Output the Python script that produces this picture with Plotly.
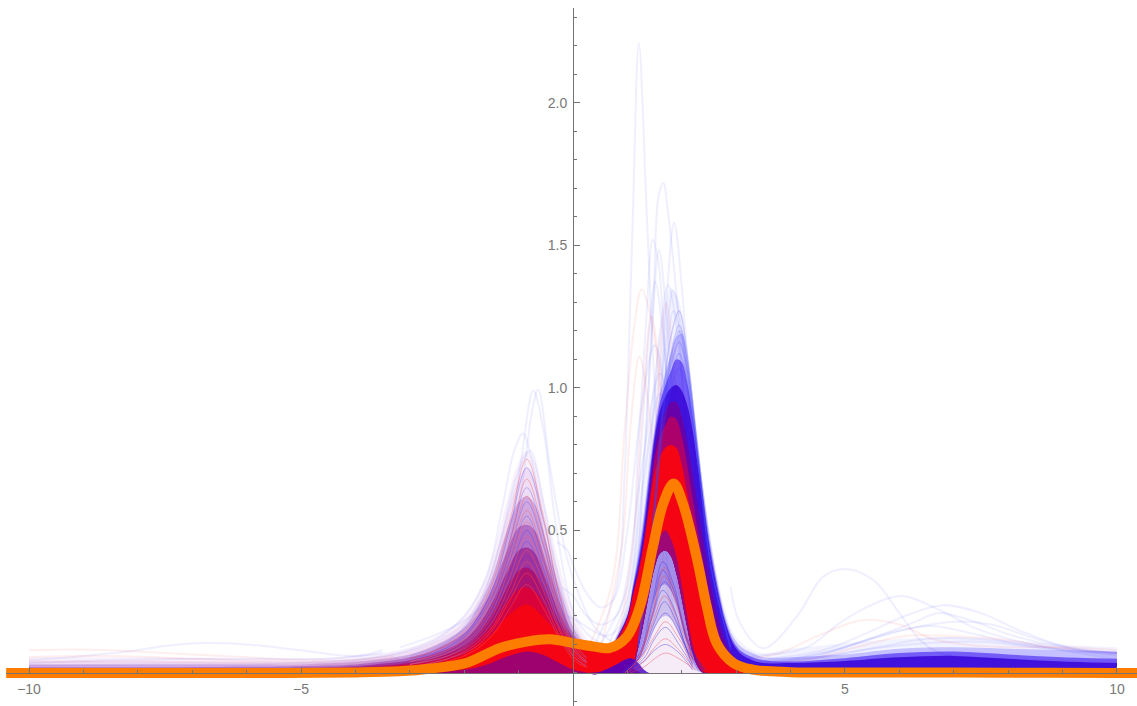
import plotly.graph_objects as go

# x grids for the two humps
left_x = [-10, -8, -6, -5, -4, -3.5, -3, -2.5, -2, -1.75, -1.5, -1.25, -1, -.85, -.7, -.5, -.25, 0, .25, .5, .75, 1, 1.25]
right_x = [.25, .5, .75, 1, 1.1, 1.2, 1.3, 1.4, 1.5, 1.6, 1.7, 1.8, 1.9, 2, 2.1, 2.2, 2.3, 2.4, 2.5, 2.6, 2.7, 2.8, 2.95, 3.1, 3.3, 3.5, 4, 4.5, 5, 6, 7, 8, 9, 10]

# left hump envelopes, outermost first
left_top = [.055, .055, .05, .05, .06, .07, .09, .13, .2, .28, .4, .58, .74, .78, .74, .58, .38, .22, .12, .07, .03, .01, 0]
left_pale = [.04, .04, .04, .04, .05, .06, .08, .115, .18, .25, .36, .53, .68, .72, .68, .53, .34, .19, .1, .06, .025, .008, 0]
left_mid = [.03, .03, .03, .03, .04, .05, .065, .1, .16, .23, .33, .48, .6, .62, .59, .46, .3, .16, .09, .05, .02, .005, 0]
left_purple = [.02, .02, .022, .024, .03, .04, .055, .085, .14, .2, .29, .41, .51, .52, .5, .39, .25, .14, .08, .04, .015, 0, 0]
left_deep = [.012, .014, .016, .018, .024, .033, .045, .07, .115, .165, .24, .34, .43, .44, .42, .33, .21, .125, .07, .035, .01, 0, 0]
left_wine = [.008, .01, .012, .014, .019, .026, .036, .056, .095, .135, .2, .285, .36, .37, .35, .28, .18, .12, .07, .04, .02, 0, 0]
left_warm = [.004, .005, .007, .01, .015, .02, .03, .045, .08, .115, .165, .24, .295, .3, .285, .235, .16, .12, .09, .07, .04, .01, 0]
left_solid = [.002, .003, .004, .005, .01, .014, .02, .035, .065, .1, .135, .19, .23, .24, .225, .185, .14, .11, .095, .09, .08, .03, 0]
left_low = [0, 0, 0, 0, 0, 0, 0, .004, .012, .02, .035, .055, .07, .075, .072, .06, .035, .012, .003, 0, 0, 0, 0]
left_zero = [0] * 23

# right hump envelopes, outermost first
right_fan = [0, 0, .11, .22, .34, .48, .65, .88, 1.05, 1.2, 1.3, 1.35, 1.33, 1.27, 1.12, .95, .79, .64, .51, .4, .3, .22, .14, .105, .08, .07, .085, .095, .105, .12, .125, .115, .1, .09]
right_blue = [0, 0, .11, .21, .31, .42, .56, .72, .86, .98, 1.05, 1.12, 1.18, 1.19, 1.1, .95, .8, .64, .5, .38, .28, .2, .125, .09, .07, .055, .055, .06, .065, .085, .09, .085, .08, .075]
right_violet = [0, 0, .1, .2, .3, .4, .53, .69, .84, .95, 1.01, 1.06, 1.1, 1.09, 1.02, .9, .76, .61, .47, .36, .265, .185, .11, .075, .055, .045, .04, .045, .052, .07, .075, .065, .055, .05]
right_dark = [0, 0, .1, .2, .29, .38, .5, .66, .82, .92, .97, 1.0, 1.01, .99, .94, .85, .72, .58, .45, .34, .25, .175, .1, .065, .045, .035, .035, .038, .042, .055, .06, .05, .04, .035]
right_purple = [0, 0, .1, .195, .28, .36, .47, .62, .78, .87, .92, .95, .95, .9, .81, .7, .58, .46, .35, .25, .17, .11, .06, .035, .02, .014, .012, .012, .012, .014, .014, .012, .01, .01]
right_wine = [0, 0, .1, .19, .275, .355, .46, .6, .75, .83, .87, .9, .89, .83, .73, .61, .49, .38, .28, .19, .125, .08, .04, .022, .012, .008, .005, .005, .005, .006, .006, .005, .004, .004]
right_red = [.09, .09, .1, .19, .27, .35, .45, .58, .7, .76, .79, .8, .79, .73, .63, .52, .42, .32, .23, .155, .1, .065, .033, .02, .012, .008, .005, .005, .005, .006, .006, .005, .004, .004]
right_hole = [0, 0, 0, 0, .02, .09, .18, .28, .37, .42, .43, .41, .35, .26, .16, .07, .02, 0, 0, 0, 0, 0, 0, 0, 0, 0, 0, 0, 0, 0, 0, 0, 0, 0]
right_hole_rim = [0, 0, 0, 0, .03, .11, .21, .32, .42, .48, .5, .47, .41, .31, .2, .1, .035, .005, 0, 0, 0, 0, 0, 0, 0, 0, 0, 0, 0, 0, 0, 0, 0, 0]
right_hole_high = [0, 0, 0, 0, .012, .06, .12, .19, .26, .3, .31, .29, .25, .17, .1, .04, .01, 0, 0, 0, 0, 0, 0, 0, 0, 0, 0, 0, 0, 0, 0, 0, 0, 0]
right_hole_mid = [0, 0, 0, 0, .01, .04, .08, .12, .16, .19, .2, .19, .16, .11, .06, .02, .005, 0, 0, 0, 0, 0, 0, 0, 0, 0, 0, 0, 0, 0, 0, 0, 0, 0]
right_seam = [0, .004, .025, .05, .05, .035, .012, 0, 0, 0, 0, 0, 0, 0, 0, 0, 0, 0, 0, 0, 0, 0, 0, 0, 0, 0, 0, 0, 0, 0, 0, 0, 0, 0]
right_zero = [0] * 34

# the mean curve
mean_x = [-10.42, -8, -6, -4, -3.2, -2.6, -1.95, -1.34, -.85, -.42, 0, .35, .68, .99, 1.23, 1.47, 1.66, 1.85, 2.02, 2.27, 2.46, 2.64, 2.95, 3.3, 4, 6, 8, 10, 10.37]
mean_y = [0, 0, 0, .002, .006, .016, .036, .088, .11, .118, .105, .094, .088, .127, .233, .443, .595, .665, .595, .408, .233, .105, .035, .012, .003, .002, .001, 0, 0]

# single faint curves read one by one
blue_curves = [
    ([.4, .8, .95, 1.0, 1.1, 1.21, 1.36, 1.51, 1.7, 1.9, 2.2], [.1, .3, .7, .97, 1.6, 2.21, 1.59, .97, .45, .18, .05]),
    ([.7, 1.1, 1.3, 1.48, 1.57, 1.66, 1.75, 1.91, 2.1, 2.4, 2.8], [.08, .3, .75, 1.31, 1.67, 1.72, 1.61, 1.31, .8, .3, .06]),
    ([.9, 1.3, 1.5, 1.7, 1.86, 2.0, 2.2, 2.4, 2.7, 3.1], [.05, .25, .6, 1.25, 1.58, 1.355, .85, .42, .14, .03]),
    ([.5, 1.0, 1.2, 1.35, 1.465, 1.57, 1.75, 2.0, 2.3, 2.7], [.1, .3, .8, 1.25, 1.52, 1.44, .95, .42, .12, .02]),
    ([.7, 1.1, 1.3, 1.45, 1.58, 1.72, 1.9, 2.2, 2.6], [.07, .28, .7, 1.2, 1.484, 1.25, .8, .25, .04]),
    ([.6, 1.05, 1.25, 1.4, 1.51, 1.65, 1.85, 2.15, 2.5], [.08, .3, .78, 1.2, 1.373, 1.2, .72, .22, .05]),
    ([.8, 1.2, 1.45, 1.6, 1.75, 1.9, 2.1, 2.4, 2.8], [.06, .3, .85, 1.2, 1.36, 1.22, .82, .3, .05]),
    ([.9, 1.3, 1.55, 1.7, 1.84, 2.0, 2.2, 2.5, 2.9], [.06, .32, .85, 1.15, 1.34, 1.2, .8, .26, .05]),
    ([1.0, 1.4, 1.65, 1.85, 2.05, 2.3, 2.6, 3.0], [.08, .42, .95, 1.27, 1.1, .65, .22, .04]),
    ([1.1, 1.5, 1.75, 1.98, 2.2, 2.45, 2.8, 3.2], [.08, .45, .95, 1.2, .95, .52, .13, .03]),
    ([-.3, -.1, 0, .25, .5, .75, 1.0, 1.25, 1.5, 1.8, 2.2], [.46, .43, .38, .28, .23, .26, .5, .92, 1.15, .85, .3]),
    ([-.2, 0, .25, .5, .8, 1.0, 1.25, 1.6, 2.0], [.3, .27, .2, .17, .2, .34, .7, 1.05, .6]),
    ([-.1, .1, .35, .6, .85, 1.05, 1.3, 1.6, 2.0], [.2, .18, .15, .13, .16, .3, .68, .98, .6]),
    ([-3.18, -2.57, -1.95, -1.46, -1.16, -.92, -.76, -.64, -.42, -.12, .1, .4, .8], [.09, .13, .19, .28, .44, .68, .91, .995, .72, .41, .28, .16, .1]),
    ([-3, -2.4, -1.9, -1.5, -1.2, -.95, -.73, -.55, -.3, 0, .3, .7], [.06, .1, .17, .26, .42, .75, .99, .86, .5, .22, .13, .09]),
    ([-3.2, -2.5, -2, -1.6, -1.3, -1.08, -.92, -.75, -.5, -.2, .2], [.07, .12, .2, .33, .58, .78, .84, .74, .44, .2, .08]),
    ([-2.8, -2.2, -1.7, -1.35, -1.05, -.79, -.55, -.3, 0, .4], [.06, .12, .25, .45, .68, .78, .6, .36, .16, .06]),
    ([2.9, 3.07, 3.5, 4.11, 4.6, 5, 5.52, 6, 6.38, 6.75, 7.4, 8.5, 10], [.3, .175, .087, .197, .338, .365, .326, .21, .116, .07, .05, .045, .04]),
    ([3.3, 4.3, 4.9, 5.5, 6.05, 6.75, 7.36, 8, 9, 10], [.06, .09, .175, .24, .27, .22, .16, .12, .08, .05]),
    ([3.6, 4.6, 5.4, 6.1, 6.8, 7.5, 8.2, 9, 10], [.05, .08, .14, .2, .238, .21, .15, .095, .07]),
    ([3.8, 4.8, 5.6, 6.3, 6.7, 7.3, 8.1, 9, 10], [.04, .08, .13, .18, .21, .185, .13, .09, .07]),
    ([3.5, 4.6, 5.5, 6.3, 7, 7.7, 8.5, 9.3, 10], [.04, .07, .12, .16, .18, .17, .12, .08, .06]),
    ([3.5, 4.5, 5.3, 6, 6.6, 7.3, 8.2, 9, 10], [.04, .06, .11, .15, .165, .14, .1, .08, .065]),
    ([3.6, 4.7, 5.6, 6.5, 7.4, 8.3, 9.2, 10], [.03, .06, .09, .12, .12, .1, .08, .07]),
    ([3.4, 4.5, 5.5, 6.5, 7.5, 8.5, 10], [.03, .055, .085, .105, .11, .09, .07]),
    ([-10, -9, -8, -7.5, -6.73, -6, -5, -4, -3.5], [.045, .06, .08, .095, .105, .1, .08, .06, .08]),
    ([-10, -8.5, -7, -5.5, -4.5, -3.5], [.035, .045, .05, .05, .05, .07]),
    ([-10, -8, -6, -5, -4, -3.2], [.025, .03, .03, .035, .045, .07]),
]
red_curves = [
    ([.2, .7, .95, 1.11, 1.26, 1.48, 1.7, 2.0, 2.4], [.06, .3, .85, 1.19, 1.345, 1.2, .72, .24, .04]),
    ([.5, .9, 1.05, 1.22, 1.4, 1.6, 1.9, 2.3], [.08, .45, .85, 1.11, .92, .5, .16, .03]),
    ([.9, 1.3, 1.55, 1.71, 1.9, 2.2, 2.6], [.05, .4, .95, 1.297, .95, .35, .05]),
    ([.8, 1.1, 1.3, 1.44, 1.6, 1.85, 2.2], [.08, .45, 1.0, 1.25, 1.05, .45, .06]),
    ([3.2, 3.8, 4.5, 5.33, 6, 6.6, 7.2, 8, 9, 10], [.05, .07, .13, .186, .17, .12, .1, .09, .09, .08]),
    ([3.4, 4.4, 5.2, 6.1, 6.9, 7.8, 8.8, 10], [.03, .05, .09, .13, .13, .12, .09, .07]),
    ([-10, -9, -8, -7, -6, -5, -4, -3.3], [.08, .082, .075, .065, .055, .045, .045, .06]),
    ([-10, -8.5, -7, -5.5, -4, -3.2], [.055, .06, .05, .04, .035, .05]),
    ([-10, -8, -6, -5, -4, -3.2], [.04, .04, .035, .03, .03, .04]),
]

# thin humps over the left peak, all on the same x list
hump_x = [-3, -2.3, -1.8, -1.45, -1.15, -.85, -.55, -.25, .05, .4]
hump_blue = [
    [.05, .09, .18, .31, .52, .72, .54, .27, .1, .03],
    [.04, .08, .17, .28, .47, .65, .49, .25, .09, .03],
    [.04, .08, .15, .26, .43, .6, .45, .23, .08, .02],
    [.04, .07, .14, .24, .4, .55, .4, .21, .08, .02],
    [.03, .07, .13, .22, .36, .5, .37, .19, .07, .02],
    [.03, .06, .12, .2, .33, .46, .34, .17, .07, .02],
    [.03, .06, .11, .19, .3, .41, .31, .16, .06, .02],
    [.02, .05, .1, .17, .27, .37, .28, .14, .05, .01],
    [.02, .05, .09, .15, .24, .33, .25, .12, .05, .01],
]
hump_red = [
    [.05, .1, .19, .33, .54, .75, .55, .28, .1, .03],
    [.04, .08, .16, .29, .47, .68, .5, .24, .09, .03],
    [.04, .08, .15, .27, .44, .62, .46, .23, .08, .02],
    [.04, .07, .14, .25, .41, .57, .42, .21, .08, .02],
    [.03, .07, .13, .23, .38, .53, .39, .2, .07, .02],
    [.03, .06, .12, .21, .34, .48, .35, .18, .07, .02],
    [.03, .06, .11, .19, .31, .43, .32, .16, .06, .02],
    [.02, .05, .1, .17, .28, .39, .29, .15, .05, .01],
    [.02, .05, .09, .16, .26, .35, .26, .13, .05, .01],
    [.02, .04, .08, .14, .23, .31, .23, .12, .04, .01],
]
# blue tops of the right peak
top_x = [1.2, 1.45, 1.65, 1.8, 1.95, 2.1, 2.3, 2.55, 2.9]
top_blue = [
    [.1, .5, .95, 1.18, 1.27, 1.12, .76, .36, .08],
    [.1, .5, .92, 1.12, 1.22, 1.1, .76, .36, .09],
    [.1, .48, .9, 1.08, 1.16, 1.06, .74, .36, .09],
    [.09, .46, .86, 1.04, 1.12, 1.03, .74, .36, .09],
    [.09, .46, .9, 1.1, 1.2, 1.07, .74, .36, .08],
    [.09, .46, .84, 1.0, 1.07, 1.0, .73, .36, .09],
]
# low humps sitting inside the pale gap of the right peak
inner_blue = [
    ([.9, 1.2, 1.45, 1.65, 1.85, 2.1, 2.4], [0, .06, .24, .39, .31, .12, .01]),
    ([.9, 1.2, 1.45, 1.65, 1.85, 2.1, 2.4], [0, .06, .22, .36, .29, .11, .01]),
    ([.95, 1.2, 1.45, 1.68, 1.9, 2.15, 2.45], [0, .05, .2, .32, .25, .09, .01]),
    ([.9, 1.2, 1.45, 1.65, 1.85, 2.1, 2.4], [0, .05, .19, .29, .23, .08, .01]),
    ([1.0, 1.25, 1.5, 1.68, 1.9, 2.15], [.01, .06, .18, .25, .18, .05]),
    ([1.0, 1.3, 1.5, 1.7, 1.95, 2.2], [.01, .07, .16, .21, .14, .03]),
    ([1.0, 1.3, 1.5, 1.7, 1.95, 2.2], [.01, .05, .12, .16, .1, .02]),
    ([1.0, 1.3, 1.5, 1.7, 1.95, 2.2], [.01, .04, .08, .1, .07, .01]),
]
inner_red = [
    ([.95, 1.2, 1.45, 1.68, 1.9, 2.2], [0, .05, .2, .37, .26, .05]),
    ([.95, 1.2, 1.45, 1.68, 1.9, 2.2], [0, .05, .2, .34, .24, .05]),
    ([.95, 1.2, 1.45, 1.68, 1.9, 2.2], [0, .05, .17, .27, .2, .04]),
    ([1.0, 1.25, 1.5, 1.7, 1.95, 2.2], [0, .05, .13, .18, .12, .03]),
    ([1.0, 1.3, 1.5, 1.7, 1.95, 2.2], [0, .04, .09, .12, .08, .02]),
    ([1.05, 1.3, 1.5, 1.7, 1.95, 2.25], [0, .02, .05, .07, .05, .01]),
]

x_ticks = [-10, -5, 5, 10]
x_labels = ["\u221210", "\u22125", "5", "10"]
y_ticks = [.5, 1, 1.5, 2]
y_labels = ["0.5", "1.0", "1.5", "2.0"]

fig = go.Figure()


def add_band(xs, low, up, color):
    fig.add_trace(go.Scatter(x=xs, y=low, mode="lines", line=dict(width=0, shape="spline", smoothing=1), hoverinfo="skip"))
    fig.add_trace(go.Scatter(x=xs, y=up, mode="lines", fill="tonexty", fillcolor=color,
                             line=dict(width=0, shape="spline", smoothing=1), hoverinfo="skip"))


def add_curves(curves, color, width=1.5):
    for xs, ys in curves:
        fig.add_trace(go.Scatter(x=xs, y=ys, mode="lines", line=dict(color=color, width=width, shape="spline"), hoverinfo="skip"))


# faint lines go under the bands
add_curves(blue_curves, "rgba(80,80,255,0.09)", 2)
add_curves(red_curves, "rgba(255,70,70,0.09)", 2)

add_band(left_x, left_zero, left_top, "rgba(180,100,210,0.09)")
add_band(left_x, left_zero, left_pale, "rgba(170,90,200,0.13)")
add_band(left_x, left_zero, left_mid, "rgba(140,50,180,0.3)")
add_band(left_x, left_zero, left_purple, "rgba(135,30,165,0.42)")
add_band(left_x, left_zero, left_deep, "rgba(150,15,130,0.6)")
add_band(left_x, left_zero, left_wine, "rgba(180,5,90,0.72)")
add_band(left_x, left_zero, left_warm, "rgba(225,0,50,0.85)")
add_band(left_x, left_zero, left_solid, "rgb(245,5,20)")
add_band(left_x, left_zero, left_low, "rgba(100,0,170,0.6)")
add_curves([(hump_x, ys) for ys in hump_blue], "rgba(70,50,240,0.3)", 1)
add_curves([(hump_x, ys) for ys in hump_red], "rgba(255,90,90,0.4)", 1)

add_band(right_x, right_hole, right_fan, "rgba(90,90,255,0.07)")
add_band(right_x, right_hole, right_blue, "rgba(60,40,255,0.25)")
add_band(right_x, right_hole, right_violet, "rgba(50,10,240,0.55)")
add_band(right_x, right_hole, right_dark, "rgba(55,5,215,0.85)")
add_band(right_x, right_hole, right_purple, "rgba(110,0,160,0.85)")
add_band(right_x, right_hole, right_wine, "rgba(190,0,90,0.8)")
add_band(right_x, right_hole, right_red, "rgb(245,5,20)")
add_band(right_x, right_zero, right_seam, "rgba(70,0,200,0.85)")
add_band(right_x, right_hole, right_hole_rim, "rgba(110,10,170,0.65)")
add_band(right_x, right_hole_high, right_hole, "rgba(70,30,210,0.5)")
add_band(right_x, right_hole_mid, right_hole_high, "rgba(90,50,200,0.3)")
add_band(right_x, right_zero, right_hole_mid, "rgba(170,100,200,0.12)")
add_curves([(top_x, ys) for ys in top_blue], "rgba(70,70,250,0.22)")
add_curves(inner_blue, "rgba(60,40,230,0.4)", 1)
add_curves(inner_red, "rgba(240,60,80,0.4)", 1)

fig.add_trace(go.Scatter(x=mean_x, y=mean_y, mode="lines", line=dict(color="rgb(252,125,0)", width=10, shape="spline"), hoverinfo="skip"))

axis_color = "rgb(115,115,115)"
tick_font = dict(family="Liberation Sans", size=14, color="rgb(120,120,120)")
fig.update_layout(
    width=1137, height=706, margin=dict(l=0, r=0, t=0, b=0), showlegend=False,
    paper_bgcolor="white", plot_bgcolor="white",
    xaxis=dict(domain=[6 / 1137, 1], range=[-10.423, 10.368], anchor="free", position=33 / 706,
               showgrid=False, zeroline=False, showline=True, linecolor=axis_color, linewidth=1,
               tickmode="array", tickvals=x_ticks, ticktext=x_labels, ticks="inside", ticklen=6,
               tickcolor=axis_color, tickfont=tick_font, ticklabelstandoff=3,
               minor=dict(ticks="inside", dtick=1, ticklen=3, tickcolor=axis_color, showgrid=False)),
    yaxis=dict(domain=[0, 698 / 706], range=[-.1158, 2.333], anchor="free", position=573 / 1137,
               showgrid=False, zeroline=False, showline=True, linecolor=axis_color, linewidth=1,
               tickmode="array", tickvals=y_ticks, ticktext=y_labels, ticks="inside", ticklen=6,
               tickcolor=axis_color, tickfont=tick_font, ticklabelstandoff=3,
               minor=dict(ticks="inside", dtick=.1, ticklen=3, tickcolor=axis_color, showgrid=False)),
)

fig.write_html("out.html", post_script="document.body.style.margin='0'", config=dict(displayModeBar=False))
